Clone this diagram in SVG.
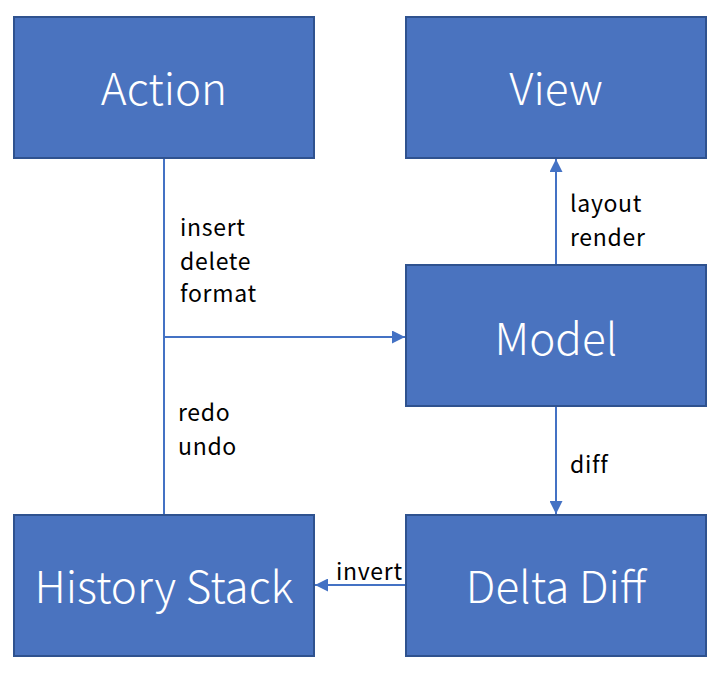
<svg xmlns="http://www.w3.org/2000/svg" width="720" height="676" viewBox="0 0 720 676">
<style>
.box{fill:#4A73BF;stroke:#2F528F;stroke-width:2}
.nt{fill:#fff;font-family:"Noto Sans CJK SC","Noto Sans",sans-serif;font-weight:300;font-size:44px;text-anchor:middle}
.lb{fill:#000;font-family:"Noto Sans CJK SC","Noto Sans",sans-serif;font-size:23px;letter-spacing:0.7px}
.ln{stroke:#4472C4;stroke-width:2;fill:none}
</style>
<defs>
<marker id="ah" viewBox="0 0 13 13" refX="13" refY="6.5" markerWidth="13" markerHeight="13" markerUnits="userSpaceOnUse" orient="auto">
<path d="M0,0L13,6.5L0,13z" fill="#4472C4"/>
</marker>
</defs>
<rect width="720" height="676" fill="#fff"/>
<g id="connectors">
<line class="ln" x1="164" y1="159" x2="164" y2="515"/>
<line class="ln" x1="164" y1="337" x2="405" y2="337" marker-end="url(#ah)"/>
<line class="ln" x1="556" y1="265" x2="556" y2="159" marker-end="url(#ah)"/>
<line class="ln" x1="556" y1="407" x2="556" y2="514" marker-end="url(#ah)"/>
<line class="ln" x1="406" y1="585" x2="315" y2="585" marker-end="url(#ah)"/>
<text class="lb" x="180" y="236">insert</text>
<text class="lb" x="180" y="270">delete</text>
<text class="lb" x="180" y="302">format</text>
<text class="lb" x="178" y="421">redo</text>
<text class="lb" x="178" y="455">undo</text>
<text class="lb" x="570" y="212">layout</text>
<text class="lb" x="570" y="246">render</text>
<text class="lb" x="570" y="473">diff</text>
<text class="lb" x="336" y="580">invert</text>
</g>
<g id="action"><rect class="box" x="14" y="17" width="300" height="141"/><text class="nt" x="164" y="105">Action</text></g>
<g id="view"><rect class="box" x="406" y="17" width="300" height="141"/><text class="nt" x="556" y="105">View</text></g>
<g id="model"><rect class="box" x="406" y="265" width="300" height="141"/><text class="nt" x="556" y="355">Model</text></g>
<g id="history"><rect class="box" x="14" y="515" width="300" height="141"/><text class="nt" x="164" y="603">History Stack</text></g>
<g id="delta"><rect class="box" x="406" y="515" width="300" height="141"/><text class="nt" x="556" y="603">Delta Diff</text></g>
</svg>
